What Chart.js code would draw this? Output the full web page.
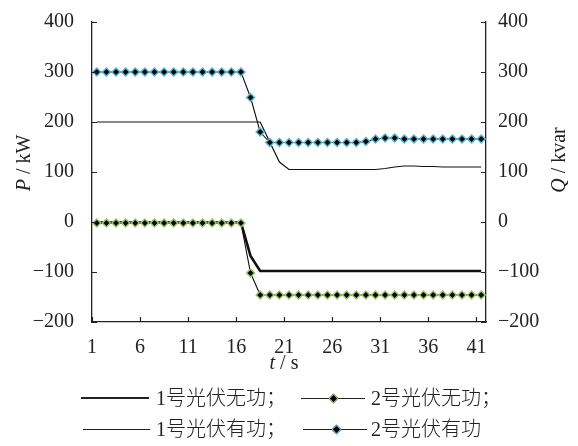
<!DOCTYPE html>
<html>
<head>
<meta charset="utf-8">
<script src="https://cdn.jsdelivr.net/npm/chart.js@4.4.0/dist/chart.umd.min.js"></script>
<style>
  html, body { margin: 0; padding: 0; background: #fff; }
  #wrap { position: relative; width: 578px; height: 446px; overflow: hidden; }
  #chart { position: absolute; left: 0; top: 0; }
  .lg { position: absolute; font-family: "Liberation Serif", "Noto Sans CJK SC", serif; font-size: 20px; font-weight: 300; color: #222; line-height: 20px; white-space: nowrap; }
  .ln { position: absolute; height: 0; border-top: 1px solid #222; }
  .dm { position: absolute; width: 5px; height: 5px; background: #000; transform: rotate(45deg); }
</style>
</head>
<body>
<div id="wrap">
  <canvas id="chart" width="578" height="446"></canvas>

  <!-- legend, two rows under the plot -->
  <div class="ln" style="left:81px; width:68px; top:397px; border-top-width:2.6px;"></div>
  <div class="lg" style="left:156px; top:388px;">1号光伏无功；</div>
  <div class="ln" style="left:301px; width:64px; top:398px;"></div>
  <div class="dm" style="left:330px; top:395px; border:1px solid #9dc46c;"></div>
  <div class="lg" style="left:371px; top:388px;">2号光伏无功；</div>

  <div class="ln" style="left:83px; width:67px; top:429px;"></div>
  <div class="lg" style="left:156px; top:419px;">1号光伏有功；</div>
  <div class="ln" style="left:303px; width:64px; top:429px;"></div>
  <div class="dm" style="left:333px; top:426px; border:1px solid #55b7d3;"></div>
  <div class="lg" style="left:371px; top:419px;">2号光伏有功</div>
</div>

<script>
// time axis (s)
const time = [1, 2, 3, 4, 5, 6, 7, 8, 9, 10, 11, 12, 13, 14, 15, 16, 17, 18, 19, 20,
              21, 22, 23, 24, 25, 26, 27, 28, 29, 30, 31, 32, 33, 34, 35, 36, 37, 38, 39, 40, 41];
// tick marks sit half a step left of the samples, labelled 1, 6, ... 41
const tickValues = [0.5, 5.5, 10.5, 15.5, 20.5, 25.5, 30.5, 35.5, 40.5];
const tickLabels = ['1', '6', '11', '16', '21', '26', '31', '36', '41'];

// 1号光伏有功 P (kW)
const p1 = [200, 200, 200, 200, 200, 200, 200, 200, 200, 200, 200, 200, 200, 200, 200, 200, 200, 200,
            160, 120, 105, 105, 105, 105, 105, 105, 105, 105, 105, 105,
            107, 110, 112, 112, 111, 111, 110, 110, 110, 110, 110];
// 2号光伏有功 P (kW)
const p2 = [300, 300, 300, 300, 300, 300, 300, 300, 300, 300, 300, 300, 300, 300, 300, 300,
            249, 180, 159, 159, 159, 159, 159, 159, 159, 159, 159, 159,
            161, 166, 168, 168, 166, 166, 166, 166, 166, 166, 166, 166, 166];
// 1号光伏无功 Q (kvar)
const q1 = [-1, -1, -1, -1, -1, -1, -1, -1, -1, -1, -1, -1, -1, -1, -1, -1,
            -68, -98, -98, -98, -98, -98, -98, -98, -98, -98, -98, -98, -98, -98,
            -98, -98, -98, -98, -98, -98, -98, -98, -98, -98, -98];
// 2号光伏无功 Q (kvar)
const q2 = [-2, -2, -2, -2, -2, -2, -2, -2, -2, -2, -2, -2, -2, -2, -2, -2,
            -102, -146, -146, -146, -146, -146, -146, -146, -146, -146, -146, -146, -146, -146,
            -146, -146, -146, -146, -146, -146, -146, -146, -146, -146, -146];

function pairs(vals) {
    return time.map((t, i) => ({ x: t, y: vals[i] }));
}

function minusSign(v) {
    return v < 0 ? '\u2212' + Math.abs(v) : String(v);
}

const serif = 'Liberation Serif';
const ink = '#222';

// inward tick marks + axis titles with italic symbols
const axisDecor = {
    id: 'axisDecor',
    afterDraw(chart) {
        const ctx = chart.ctx;
        const a = chart.chartArea;
        const sx = chart.scales.x, sy = chart.scales.y, sy1 = chart.scales.y1;
        ctx.save();
        ctx.strokeStyle = ink;
        ctx.lineWidth = 1.2;
        ctx.beginPath();
        sx.ticks.forEach(t => {
            const px = Math.round(sx.getPixelForValue(t.value)) + 0.5;
            ctx.moveTo(px, a.bottom);
            ctx.lineTo(px, a.bottom - 5);
        });
        sy.ticks.forEach(t => {
            const py = Math.round(sy.getPixelForValue(t.value)) + 0.5;
            ctx.moveTo(a.left, py);
            ctx.lineTo(a.left + 5, py);
        });
        sy1.ticks.forEach(t => {
            const py = Math.round(sy1.getPixelForValue(t.value)) + 0.5;
            ctx.moveTo(a.right, py);
            ctx.lineTo(a.right - 5, py);
        });
        ctx.stroke();
        ctx.restore();

        drawParts(ctx, [['P', 'italic 20px ' + serif], [' / kW', '20px ' + serif]], 25, 163, -Math.PI / 2);
        drawParts(ctx, [['Q', 'italic 20px ' + serif], [' / kvar', '20px ' + serif]], 560, 160, -Math.PI / 2);
        drawParts(ctx, [['t', 'italic 20px ' + serif], [' / s', '20px ' + serif]], 284, 364, 0);
    }
};

function drawParts(ctx, parts, cx, cy, angle) {
    ctx.save();
    ctx.translate(cx, cy);
    ctx.rotate(angle);
    let total = 0;
    const widths = parts.map(p => {
        ctx.font = p[1];
        const w = ctx.measureText(p[0]).width;
        total += w;
        return w;
    });
    let x = -total / 2;
    ctx.fillStyle = ink;
    ctx.textBaseline = 'middle';
    ctx.textAlign = 'left';
    parts.forEach((p, i) => {
        ctx.font = p[1];
        ctx.fillText(p[0], x, 0);
        x += widths[i];
    });
    ctx.restore();
}

const tickFont = { family: serif, size: 20 };

const config = {
    type: 'line',
    data: {
        datasets: [
            {
                label: '2号光伏有功',
                data: pairs(p2),
                yAxisID: 'y',
                borderColor: '#111',
                borderWidth: 1.1,
                pointStyle: 'rectRot',
                pointRadius: 4,
                pointBackgroundColor: '#000',
                pointBorderColor: '#55b7d3',
                pointBorderWidth: 1.5,
                order: 1
            },
            {
                label: '2号光伏无功',
                data: pairs(q2),
                yAxisID: 'y1',
                borderColor: '#111',
                borderWidth: 1.1,
                pointStyle: 'rectRot',
                pointRadius: 4,
                pointBackgroundColor: '#000',
                pointBorderColor: '#9dc46c',
                pointBorderWidth: 1.5,
                order: 2
            },
            {
                label: '1号光伏有功',
                data: pairs(p1),
                yAxisID: 'y',
                borderColor: '#111',
                borderWidth: 1.2,
                pointRadius: 0,
                order: 3
            },
            {
                label: '1号光伏无功',
                data: pairs(q1),
                yAxisID: 'y1',
                borderColor: '#111',
                borderWidth: 2.6,
                pointRadius: 0,
                order: 4
            }
        ]
    },
    options: {
        responsive: false,
        animation: false,
        layout: { padding: { top: 17, left: 0, right: 0, bottom: 0 } },
        plugins: {
            legend: { display: false },
            tooltip: { enabled: false }
        },
        scales: {
            x: {
                type: 'linear',
                min: 0.5,
                max: 41.5,
                grid: { display: false },
                border: { display: true, color: ink, width: 1.3 },
                afterBuildTicks: axis => {
                    axis.ticks = tickValues.map(v => ({ value: v }));
                },
                afterFit: axis => { axis.height = 124; },
                ticks: {
                    autoSkip: false,
                    maxRotation: 0,
                    padding: 6,
                    color: ink,
                    font: tickFont,
                    callback: (v, i) => tickLabels[i]
                }
            },
            y: {
                position: 'left',
                min: -200,
                max: 400,
                grid: { display: false },
                border: { display: true, color: ink, width: 1.3 },
                afterFit: axis => { axis.width = 92; },
                ticks: {
                    stepSize: 100,
                    padding: 10,
                    color: ink,
                    font: tickFont,
                    callback: v => minusSign(v)
                }
            },
            y1: {
                position: 'right',
                min: -200,
                max: 400,
                grid: { display: false },
                border: { display: true, color: ink, width: 1.3 },
                afterFit: axis => { axis.width = 92; },
                ticks: {
                    stepSize: 100,
                    padding: 4,
                    color: ink,
                    font: tickFont,
                    callback: v => minusSign(v)
                }
            }
        }
    },
    plugins: [axisDecor]
};

new Chart(document.getElementById('chart').getContext('2d'), config);
</script>
</body>
</html>
